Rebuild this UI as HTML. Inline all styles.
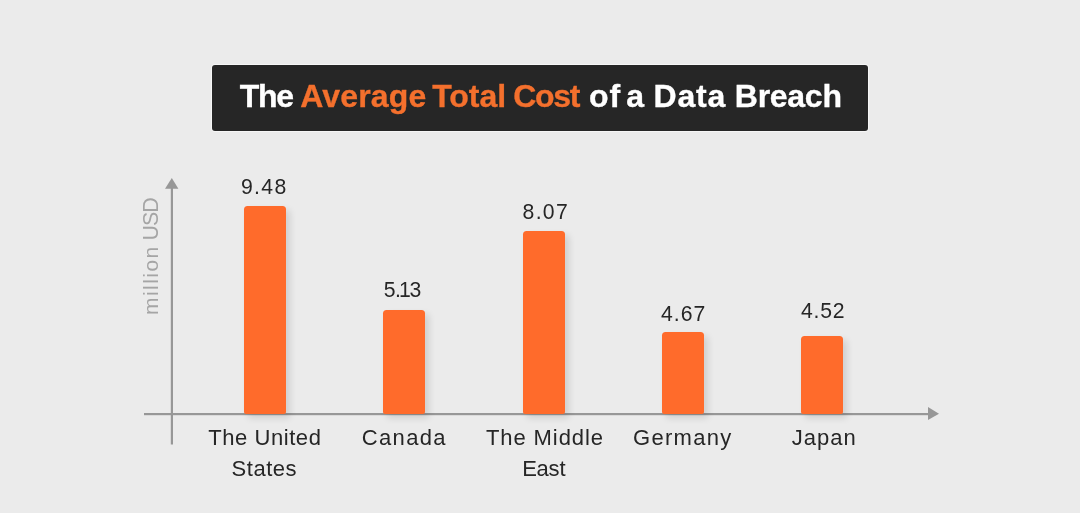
<!DOCTYPE html>
<html lang="en">
<head>
<meta charset="utf-8">
<title>The Average Total Cost of a Data Breach</title>
<style>
html,body{margin:0;padding:0;}
body{width:1080px;height:513px;background:#ebebeb;position:relative;overflow:hidden;font-family:"Liberation Sans",sans-serif;}
.title{position:absolute;left:212px;top:65px;width:656px;height:66px;margin:0;background:#262626;border-radius:3px;box-shadow:0 0 0 1px rgba(255,255,255,0.55);font-size:32px;font-weight:bold;}
.chart{position:absolute;left:0;top:0;width:1080px;height:513px;}
.axes{position:absolute;left:0;top:0;}
.bar{position:absolute;width:42px;background:#ff6b2b;border-radius:3.5px 3.5px 2px 2px;box-shadow:4px 4px 7px rgba(0,0,0,0.12);}
.w{position:absolute;white-space:nowrap;display:block;}
.tw,.to{color:#fff;font-weight:bold;font-size:32px;line-height:62px;height:66px;-webkit-text-stroke:0.35px currentColor;}
.to{color:#f4702d;}
.val{font-size:21.2px;transform:translateY(0.5px);line-height:24px;color:#262626;}
.lab{font-size:22px;line-height:31.5px;color:#262626;}
.ylab{position:absolute;left:138.8px;top:315.0px;transform-origin:0 0;transform:rotate(-90deg);white-space:nowrap;color:#a5a5a5;line-height:24px;font-size:22px;}
.ylab .a{font-size:21px;letter-spacing:1.45px;}
.ylab .b{font-size:21.5px;letter-spacing:-1.1px;margin-left:-1.3px;}
</style>
</head>
<body>
<h1 class="title">
  <span class="w tw" style="left:27.69px;top:0px;letter-spacing:-1.24px">The</span>
  <span class="w to" style="left:88.20px;top:0px;letter-spacing:0.15px">Average</span>
  <span class="w to" style="left:220.26px;top:0px;letter-spacing:-0.06px">Total</span>
  <span class="w to" style="left:301.37px;top:0px;letter-spacing:-1.38px">Cost</span>
  <span class="w tw" style="left:376.97px;top:0px;letter-spacing:1.00px">of</span>
  <span class="w tw" style="left:414.22px;top:0px;letter-spacing:0.00px">a</span>
  <span class="w tw" style="left:441.58px;top:0px;letter-spacing:0.82px">Data</span>
  <span class="w tw" style="left:522.84px;top:0px;letter-spacing:-0.28px">Breach</span>
</h1>

<div class="chart">
  <svg class="axes" width="1080" height="513" viewBox="0 0 1080 513">
    <rect x="170.8" y="186" width="2.2" height="258.5" fill="#979797"/>
    <rect x="144" y="413" width="786" height="2.2" fill="#979797"/>
    <polygon points="171.8,178 165,188.8 178.4,188.8" fill="#979797"/>
    <polygon points="939,413.8 928,407 928,420" fill="#979797"/>
  </svg>

  <div class="ylab"><span class="a">million</span> <span class="b">USD</span></div>

  <div class="bar" style="left:244px;top:206px;height:208px;"></div>
  <div class="bar" style="left:383px;top:310px;height:104px;"></div>
  <div class="bar" style="left:523px;top:231px;height:183px;"></div>
  <div class="bar" style="left:662px;top:332px;height:82px;"></div>
  <div class="bar" style="left:801px;top:336px;height:78px;"></div>
  <div class="values">
    <span class="w val" style="left:240.91px;top:174px;letter-spacing:1.36px">9.48</span>
    <span class="w val" style="left:383.67px;top:277px;letter-spacing:-1.21px"><span style="letter-spacing:-0.41px">5</span><span style="letter-spacing:-2.01px">.</span>13</span>
    <span class="w val" style="left:522.59px;top:199px;letter-spacing:1.30px">8.07</span>
    <span class="w val" style="left:660.97px;top:301px;letter-spacing:1.02px">4.67</span>
    <span class="w val" style="left:801.08px;top:298px;letter-spacing:0.72px">4.52</span>
  </div>

  <div class="labels">
    <div class="label"><span class="w lab" style="left:208.34px;top:421.8px;letter-spacing:0.55px">The United</span> <span class="w lab" style="left:231.58px;top:453.3px;letter-spacing:0.52px">States</span></div>
    <div class="label"><span class="w lab" style="left:361.69px;top:421.8px;letter-spacing:1.37px">Canada</span></div>
    <div class="label"><span class="w lab" style="left:485.93px;top:421.8px;letter-spacing:0.92px">The Middle</span> <span class="w lab" style="left:522.16px;top:453.3px;letter-spacing:-0.23px">East</span></div>
    <div class="label"><span class="w lab" style="left:633.10px;top:421.8px;letter-spacing:1.27px">Germany</span></div>
    <div class="label"><span class="w lab" style="left:791.72px;top:421.8px;letter-spacing:1.01px">Japan</span></div>
  </div>
</div>
</body>
</html>
